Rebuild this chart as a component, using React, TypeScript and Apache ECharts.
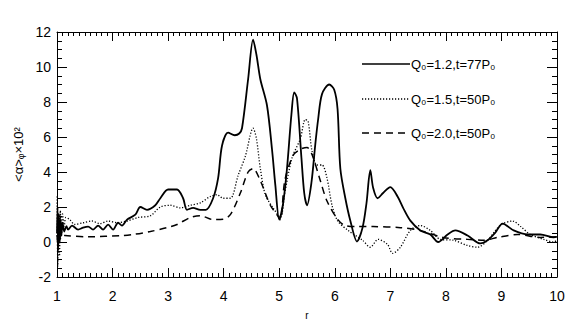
import React, { useEffect, useRef } from "react";
import * as echarts from "echarts";

const xTicks = [1, 2, 3, 4, 5, 6, 7, 8, 9, 10];
const yTicks = [-2, 0, 2, 4, 6, 8, 10, 12];

const legendLabels = ["Q₀=1.2,t=77P₀", "Q₀=1.5,t=50P₀", "Q₀=2.0,t=50P₀"];

const solidX = [1.0, 1.01, 1.02, 1.035, 1.05, 1.065, 1.08, 1.1, 1.13, 1.17, 1.2, 1.27, 1.38, 1.47, 1.56, 1.65, 1.74, 1.83, 1.92, 2.01, 2.1, 2.17, 2.26, 2.41, 2.5, 2.62, 2.77, 2.86, 3.0, 3.16, 3.27, 3.34, 3.45, 3.58, 3.68, 3.81, 3.9, 3.97, 4.08, 4.2, 4.28, 4.33, 4.44, 4.53, 4.59, 4.66, 4.78, 4.87, 4.93, 5.0, 5.07, 5.14, 5.22, 5.27, 5.32, 5.4, 5.45, 5.5, 5.58, 5.65, 5.7, 5.77, 5.9, 5.99, 6.05, 6.1, 6.19, 6.28, 6.4, 6.5, 6.57, 6.64, 6.69, 6.77, 6.87, 7.0, 7.13, 7.23, 7.36, 7.54, 7.72, 7.86, 8.03, 8.17, 8.39, 8.62, 8.75, 8.89, 9.02, 9.22, 9.47, 9.7, 9.94, 10.0];
const solidY = [0.5, 2.0, -0.5, 1.6, 0.0, 1.3, 0.4, 1.1, 0.6, 0.9, 0.71, 0.94, 0.71, 0.82, 0.88, 0.71, 0.94, 0.71, 0.99, 0.71, 1.1, 0.94, 1.28, 1.56, 2.0, 1.84, 2.1, 2.5, 3.0, 3.0, 2.5, 1.84, 1.95, 1.84, 1.84, 2.5, 3.65, 5.5, 6.25, 6.1, 6.2, 6.5, 9.3, 11.56, 10.7, 9.3, 7.8, 5.3, 3.25, 1.28, 2.2, 4.2, 7.3, 8.55, 8.2, 4.8, 2.8, 2.1, 3.4, 5.6, 7.0, 8.45, 9.0, 8.7, 7.6, 4.2, 2.5, 1.22, 0.03, 0.82, 2.2, 4.1, 3.1, 2.5, 2.8, 3.14, 2.6, 1.95, 1.22, 0.66, 0.43, 0.0, 0.43, 0.66, 0.37, -0.08, 0.1, 0.54, 1.05, 0.66, 0.43, 0.43, 0.26, 0.3];

const dottedX = [1.0, 1.015, 1.03, 1.045, 1.06, 1.08, 1.1, 1.13, 1.16, 1.23, 1.32, 1.47, 1.63, 1.77, 1.92, 2.08, 2.26, 2.46, 2.68, 2.86, 3.04, 3.22, 3.4, 3.58, 3.76, 3.88, 3.99, 4.12, 4.26, 4.39, 4.53, 4.59, 4.66, 4.75, 4.89, 5.02, 5.1, 5.23, 5.38, 5.47, 5.52, 5.59, 5.68, 5.77, 5.86, 5.95, 6.05, 6.24, 6.5, 6.64, 6.78, 6.95, 7.04, 7.18, 7.36, 7.54, 7.72, 7.9, 8.14, 8.39, 8.57, 8.75, 8.98, 9.2, 9.34, 9.52, 9.76, 9.94, 10.0];
const dottedY = [2.6, -1.4, 1.5, -0.8, 1.8, 0.3, 1.6, 0.9, 1.4, 1.28, 1.0, 1.1, 1.2, 1.05, 1.2, 1.1, 1.2, 1.4, 1.5, 2.0, 2.1, 1.95, 2.1, 2.24, 2.6, 2.7, 2.5, 2.5, 3.8, 4.9, 6.5, 5.9, 4.2, 2.7, 1.95, 1.4, 2.8, 4.8, 5.9, 7.0, 6.9, 5.2, 4.4, 4.4, 3.65, 2.1, 1.22, 0.66, 0.1, -0.3, 0.15, -0.14, -0.65, -0.3, 0.66, 0.94, 0.66, 0.15, 0.1, -0.2, -0.3, 0.1, 0.95, 1.2, 0.9, 0.43, 0.15, 0.0, 0.1];

const dashedX = [1.0, 1.02, 1.04, 1.06, 1.1, 1.14, 1.56, 2.17, 2.37, 2.68, 2.98, 3.16, 3.4, 3.58, 3.81, 3.99, 4.12, 4.3, 4.44, 4.53, 4.66, 4.84, 4.96, 5.02, 5.1, 5.25, 5.38, 5.5, 5.59, 5.74, 5.86, 6.05, 6.19, 6.4, 6.69, 7.18, 7.54, 7.95, 8.39, 8.68, 8.93, 9.29, 9.7, 10.0];
const dashedY = [0.4, -0.3, 0.8, 0.2, 0.4, 0.37, 0.3, 0.37, 0.43, 0.6, 0.82, 1.0, 1.4, 1.5, 1.28, 1.3, 1.56, 2.8, 4.0, 4.2, 3.5, 2.1, 1.56, 1.28, 3.5, 4.95, 5.3, 5.4, 5.0, 3.5, 2.34, 1.3, 0.94, 0.88, 0.88, 0.82, 0.66, 0.26, 0.15, 0.1, 0.26, 0.43, 0.26, 0.3];

const zip = (xs: number[], ys: number[]) => xs.map((x, i) => [x, ys[i]]);

const FONT = "Liberation Sans";

export default function App() {
  const ref = useRef<HTMLDivElement>(null);
  useEffect(() => {
    const chart = echarts.init(ref.current!, null, { renderer: "svg" });
    const xBase = {
      type: "value" as const,
      min: xTicks[0],
      max: xTicks[xTicks.length - 1],
      interval: 1,
      axisLine: { show: true, onZero: false, lineStyle: { color: "#000", width: 1 } },
      axisTick: { show: true, inside: true, length: 9, lineStyle: { color: "#000" } },
      minorTick: { show: true, splitNumber: 10, length: 4, lineStyle: { color: "#000" } },
      splitLine: { show: false },
    };
    const yBase = {
      type: "value" as const,
      min: yTicks[0],
      max: yTicks[yTicks.length - 1],
      interval: 2,
      axisLine: { show: true, onZero: false, lineStyle: { color: "#000", width: 1 } },
      axisTick: { show: true, inside: true, length: 10, lineStyle: { color: "#000" } },
      minorTick: { show: true, splitNumber: 4, length: 5, lineStyle: { color: "#000" } },
      splitLine: { show: false },
    };
    const legendY = [64, 99, 133];
    const dashes: any[] = [null, [1.2, 1.8], [7, 5]];
    const graphics: any[] = [];
    legendLabels.forEach((lab, i) => {
      graphics.push({
        type: "line",
        shape: { x1: 362, y1: legendY[i], x2: 410, y2: legendY[i] },
        style: { stroke: "#000", lineWidth: i === 0 ? 1.5 : 1.3, lineDash: dashes[i] },
      });
      graphics.push({
        type: "text",
        x: 411,
        y: legendY[i],
        style: { text: lab, fill: "#000", font: `13px '${FONT}'`, textVerticalAlign: "middle" },
      });
    });
    chart.setOption({
      animation: false,
      backgroundColor: "#fff",
      grid: { left: 57, top: 32, right: 20, bottom: 45, containLabel: false },
      xAxis: [
        {
          ...xBase,
          position: "bottom",
          name: "r",
          nameLocation: "middle",
          nameGap: 33,
          nameTextStyle: { fontSize: 10, color: "#000", fontFamily: FONT },
          axisLabel: { fontSize: 14, color: "#000", margin: 12, fontFamily: FONT },
        },
        { ...xBase, position: "top", axisLabel: { show: false } },
      ],
      yAxis: [
        {
          ...yBase,
          position: "left",
          name: "<α>ᵩ×10²",
          nameLocation: "middle",
          nameGap: 32,
          nameRotate: 90,
          nameTextStyle: { fontSize: 13, color: "#000", fontFamily: FONT },
          axisLabel: { fontSize: 14, color: "#000", margin: 6, fontFamily: FONT },
        },
        { ...yBase, position: "right", axisLabel: { show: false } },
      ],
      series: [
        {
          type: "line",
          data: zip(solidX, solidY),
          showSymbol: false,
          smooth: 0.3,
          lineStyle: { color: "#000", width: 1.8, type: "solid" },
        },
        {
          type: "line",
          data: zip(dottedX, dottedY),
          showSymbol: false,
          smooth: 0.3,
          lineStyle: { color: "#000", width: 1.3, type: [1.2, 1.8] },
        },
        {
          type: "line",
          data: zip(dashedX, dashedY),
          showSymbol: false,
          smooth: 0.3,
          lineStyle: { color: "#000", width: 1.5, type: [7, 5] },
        },
      ],
      graphic: graphics,
    });
    return () => chart.dispose();
  }, []);
  return <div ref={ref} style={{ width: 577, height: 325, position: "absolute", left: 0, top: 0 }} />;
}
